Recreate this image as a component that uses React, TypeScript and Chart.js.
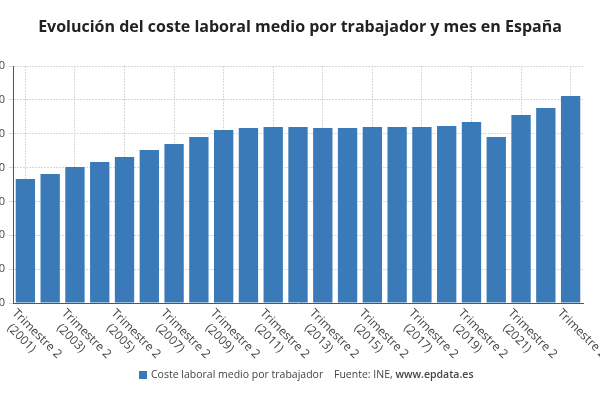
import React, { useEffect, useRef } from "react";
import { Chart, registerables } from "chart.js";
Chart.register(...registerables);

const years = ["2001","2002","2003","2004","2005","2006","2007","2008","2009","2010","2011","2012","2013","2014","2015","2016","2017","2018","2019","2020","2021","2022","2023"];
const categories = years.map((y) => `Trimestre 2 (${y})`);
const values = [1831,1905,2008,2082,2156,2260,2348,2452,2555,2585,2600,2600,2585,2585,2600,2600,2600,2614,2673,2452,2777,2880,3057];
const seriesName = "Coste laboral medio por trabajador";
const source = "Fuente: INE, ";
const sourceBold = "www.epdata.es";
const title = "Evolución del coste laboral medio por trabajador y mes en España";
const FONT = "'Open Sans', sans-serif";
const BLUE = "#3a7ab8";
const SHIFT = 30;

export default function App() {
  const ref = useRef<HTMLCanvasElement>(null);
  useEffect(() => {
    const labelPlugin = {
      id: "custom",
      afterDraw(chart: any) {
        const ctx = chart.ctx;
        const xs = chart.scales.x;
        const bottom = chart.chartArea.bottom;
        ctx.save();
        ctx.fillStyle = "#444";
        ctx.font = `12px ${FONT}`;
        categories.forEach((c, i) => {
          if (i % 2 !== 0) return;
          const px = xs.getPixelForValue(i);
          ctx.save();
          ctx.translate(px - 7, bottom + 4);
          ctx.rotate(Math.PI / 4);
          ctx.textAlign = "left";
          ctx.textBaseline = "top";
          ctx.fillText("Trimestre 2", 0, 0);
          if (i !== categories.length - 1) {
            ctx.fillText(`(${years[i]})`, 7, 14);
          }
          ctx.restore();
        });
        const y = 375;
        ctx.font = `10.5px ${FONT}`;
        ctx.textBaseline = "middle";
        ctx.textAlign = "left";
        ctx.fillStyle = BLUE;
        ctx.fillRect(139 + SHIFT, y - 4, 8, 8);
        ctx.fillStyle = "#444";
        ctx.fillText(seriesName, 151 + SHIFT, y);
        ctx.fillText(source, 334 + SHIFT, y);
        const w = ctx.measureText(source).width;
        ctx.font = `600 10.5px ${FONT}`;
        ctx.fillText(sourceBold, 334 + SHIFT + w, y);
        ctx.font = `bold 16px ${FONT}`;
        ctx.textAlign = "center";
        ctx.fillStyle = "#222";
        ctx.fillText(title, 300 + SHIFT, 27);
        ctx.restore();
      },
    };
    const chart = new Chart(ref.current!, {
      type: "bar",
      data: {
        labels: categories,
        datasets: [{ label: seriesName, data: values, backgroundColor: BLUE, barPercentage: 0.78, categoryPercentage: 1 }],
      },
      options: {
        animation: false,
        responsive: false,
        layout: { padding: { top: 66, right: 17, bottom: 97, left: 0 } },
        plugins: { legend: { display: false }, title: { display: false }, tooltip: { enabled: false } },
        scales: {
          x: {
            grid: {
              offset: false,
              color: (c: any) => (c.index % 2 === 0 ? "#d8d8d8" : "transparent"),
              tickLength: 0,
            },
            border: { color: "#555", dash: [2, 1] },
            ticks: { display: false, autoSkip: false },
          },
          y: {
            min: 0,
            max: 3500,
            afterFit: (s: any) => { s.width = 13 + SHIFT; },
            ticks: { stepSize: 500, color: "#444", font: { family: FONT, size: 11 }, padding: 4 },
            grid: { color: "#d8d8d8", tickLength: 4 },
            border: { color: "#555", dash: [2, 1] },
          },
        },
      },
      plugins: [labelPlugin],
    });
    return () => chart.destroy();
  }, []);
  return (
    <div style={{ position: "fixed", left: -SHIFT, top: 0, width: 600 + SHIFT, height: 400, background: "#fff" }}>
      <canvas ref={ref} width={600 + SHIFT} height={400} />
    </div>
  );
}
